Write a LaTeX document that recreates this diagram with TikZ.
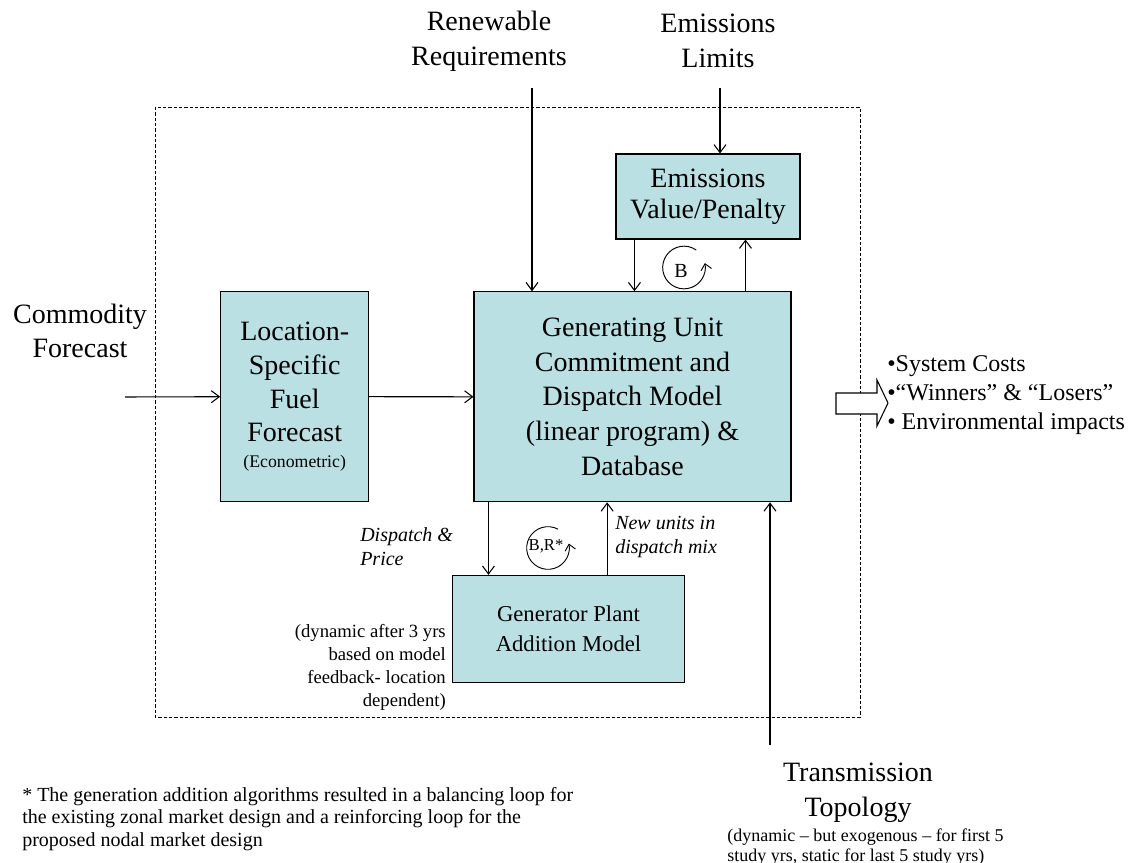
\documentclass[tikz,border=0pt]{standalone}
\usepackage{fontspec}
\setmainfont{Liberation Serif}
\usetikzlibrary{arrows.meta,positioning,calc}
\definecolor{boxfill}{RGB}{187,224,227}

\begin{document}
\begin{tikzpicture}[
    x=0.75pt, y=-0.75pt,
    box/.style={rectangle, draw, line width=0.8pt, fill=boxfill, align=center, inner sep=0pt},
    arrow/.style={-{Straight Barb[length=6pt,width=9pt]}, line width=0.8pt},
    fbarrow/.style={-{Straight Barb[length=4.5pt,width=8pt]}, line width=0.7pt},
    big/.style={font=\fontsize{21}{26}\selectfont, align=center},
    note/.style={font=\fontsize{14}{17.25}\selectfont},
    cue/.style={font=\fontsize{15}{18}\selectfont\itshape, align=left, inner sep=0pt}
]
\useasboundingbox (0,0) rectangle (1135,863);

% Model boundary
\draw[dash pattern=on 2.5pt off 1.5pt, line width=0.6pt] (155,107) rectangle (860,717);

% Boxes
\node[box, font=\fontsize{21}{25.3}\selectfont, minimum width=111pt, minimum height=157.5pt] (loc) at (294.7,396.7)
    {Location-\\Specific\\Fuel\\Forecast\\[-6pt]{\fontsize{13.3}{16}\selectfont (Econometric)}};
\node[box, big, minimum width=237.75pt, minimum height=157.5pt] (main) at (632.5,396.8)
    {Generating Unit\\Commitment and\\Dispatch Model\\(linear program) \&\\Database};
\node[box, font=\fontsize{21}{23.5}\selectfont, minimum width=138pt, minimum height=63.75pt] (emis) at (708,196.5)
    {Emissions\\Value/Penalty};
\node[box, font=\fontsize{17}{22.5}\selectfont, minimum width=173.7pt, minimum height=80pt] (gen) at (568.5,628.7)
    {Generator Plant\\Addition Model};

% Outside inputs
\node[big, inner sep=0pt] (comm) at (80,331) {Commodity\\Forecast};
\node[big, inner sep=0pt] (renew) at (489,41) {Renewable\\Requirements};
\node[big, inner sep=0pt] (elim) at (718,41) {Emissions\\Limits};
\node[big, inner sep=0pt] (trans) at (858,793) {Transmission\\Topology};
\node[font=\fontsize{13.5}{14.5}\selectfont, align=left, anchor=base west, inner sep=0pt] (transnote) at (727,861)
    {(dynamic -- but exogenous -- for first 5\\study yrs, static for last 5 study yrs)};

\coordinate (commin) at (125,397);
\coordinate (renin) at (532,88);
\coordinate (emin) at (720,88);
\coordinate (trin) at (770,745);

% Input arrows
\draw[arrow] (commin) -- (loc.west);
\draw[arrow] (loc.east) -- (main.west);
\draw[arrow] (renin) -- (renin |- main.north);
\draw[arrow] (emin) -- (emin |- emis.north);
\draw[arrow] (trin) -- (trin |- main.south);

% Emissions loop
\path (emis.south west) ++(19,0) coordinate (edown);
\path (main.north west) ++(272,0) coordinate (eup);
\draw[arrow] (edown) -- (edown |- main.north);
\draw[arrow] (eup) -- (eup |- emis.south);
\node[font=\fontsize{15}{16}\selectfont, inner sep=0pt] (loopb) at (681,271) {B};
\draw[fbarrow] (684,267.5) ++(55:16pt) arc[start angle=55, end angle=372, radius=16pt];

% Dispatch loop
\path (main.south west) ++(15,0) coordinate (ddown);
\path (gen.north west) ++(155,0) coordinate (dup);
\draw[arrow] (ddown) -- (ddown |- gen.north);
\draw[arrow] (dup) -- (dup |- main.south);
\node[font=\fontsize{12.5}{15}\selectfont, inner sep=0pt] (loopbr) at (546,546) {B,R*};
\draw[fbarrow] (548,548) ++(62:16pt) arc[start angle=62, end angle=372, radius=16pt];
\node[cue, anchor=north west] (disp) at (360,527) {Dispatch \&\\Price};
\node[cue, anchor=north west] (newunits) at (615,516) {New units in\\dispatch mix};
\node[note, align=right, anchor=north east, inner sep=0pt] (gennote) at (446,624)
    {(dynamic after 3 yrs\\based on model\\feedback- location\\dependent)};

% Outputs
\draw[line width=0.8pt, fill=white] (836,393) -- (877,393) -- (877,380) -- (888,403)
    -- (877,426) -- (877,414) -- (836,414) -- cycle;
\node[font=\fontsize{18}{22}\selectfont, align=left, anchor=west, inner sep=0pt] (results) at (887,395)
    {•System Costs\\•“Winners” \& “Losers”\\• Environmental impacts};

% Footnote
\node[font=\fontsize{15}{16.9}\selectfont, align=left, anchor=north west, inner sep=0pt] (foot) at (22,787)
    {* The generation addition algorithms resulted in a balancing loop for\\the existing zonal market design and a reinforcing loop for the\\proposed nodal market design};

\end{tikzpicture}
\end{document}
